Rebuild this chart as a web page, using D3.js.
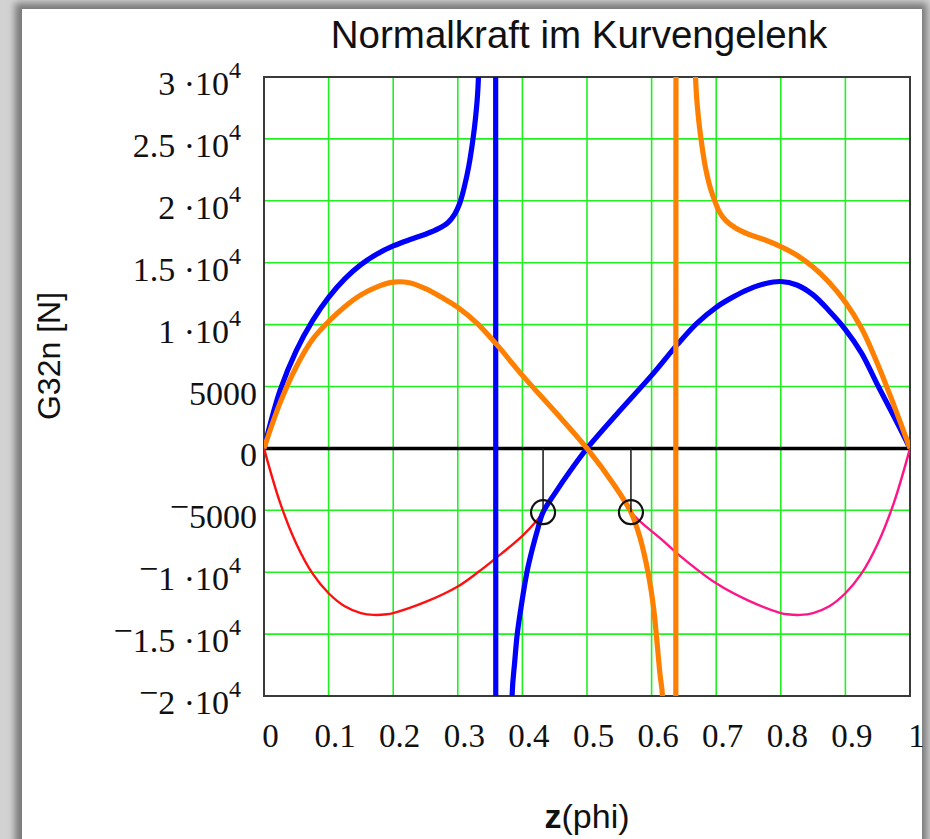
<!DOCTYPE html>
<html><head><meta charset="utf-8">
<script src="https://cdn.jsdelivr.net/npm/d3@7"></script>
<style>html,body{margin:0;padding:0;background:#fff;overflow:hidden} svg{display:block}</style>
</head><body>
<svg id="c" width="930" height="839"></svg>
<script>
// ---------- data ----------
const chartTitle = "Normalkraft im Kurvengelenk";
const yTitle = "G32n [N]";
const xTicks = [0, 0.1, 0.2, 0.3, 0.4, 0.5, 0.6, 0.7, 0.8, 0.9, 1];
const xTickLabels = ["0", "0.1", "0.2", "0.3", "0.4", "0.5", "0.6", "0.7", "0.8", "0.9", "1"];
const yTicks = [-20000, -15000, -10000, -5000, 0, 5000, 10000, 15000, 20000, 25000, 30000];
const yTickLabels = ["−2·10^4", "−1.5·10^4", "−1·10^4", "−5000", "0", "5000", "1·10^4", "1.5·10^4", "2·10^4", "2.5·10^4", "3·10^4"];

// blue trace (pole near z = 0.358)
const zBlue = [0, 0.025, 0.05, 0.075, 0.1, 0.125, 0.15, 0.175, 0.2, 0.225, 0.25, 0.27, 0.285, 0.295, 0.303, 0.31, 0.317, 0.323, 0.328, 0.332,
  0.358, 0.359, 0.384, 0.388, 0.392, 0.398, 0.407, 0.415, 0.423, 0.432, 0.45, 0.475, 0.5,
  0.55, 0.6, 0.64, 0.67, 0.7, 0.725, 0.75, 0.775, 0.8, 0.825, 0.85, 0.875, 0.9, 0.925, 0.95, 0.975, 1];
const gBlue = [0, 4700, 7900, 10300, 12200, 13700, 14850, 15700, 16350, 16850, 17300, 17750, 18250, 18900, 19800, 21100, 22800, 24800, 27000, 30000,
  200000, -200000, -20000, -17300, -15000, -12800, -10000, -8200, -6650, -5150, -3650, -1750, 0,
  3000, 5900, 8400, 10100, 11400, 12200, 12850, 13300, 13480, 13200, 12400, 11100, 9600, 7700, 5100, 2600, 0];

// orange trace (pole near z = 0.639)
const zOrange = [0, 0.025, 0.05, 0.075, 0.1, 0.125, 0.15, 0.175, 0.2, 0.225, 0.25, 0.275, 0.3, 0.33, 0.36, 0.4, 0.45, 0.5,
  0.541, 0.568, 0.582, 0.595, 0.603, 0.613, 0.617, 0.638, 0.639,
  0.668, 0.672, 0.677, 0.683, 0.69, 0.697, 0.705, 0.715, 0.73, 0.75, 0.775, 0.8, 0.825, 0.85, 0.875, 0.9, 0.925, 0.95, 0.975, 1];
const gOrange = [0, 3700, 6600, 8800, 10250, 11450, 12400, 13050, 13430, 13380, 12900, 12200, 11400, 10100, 8400, 5900, 3000, 0,
  -2880, -5150, -7200, -10160, -12860, -18250, -20140, -200000, 200000,
  30000, 27000, 24800, 22800, 21200, 20100, 19100, 18400, 17800, 17300, 16850, 16300, 15600, 14650, 13400, 11800, 9700, 6800, 3500, 0];

// red trace (left half)
const zRed = [0, 0.025, 0.05, 0.075, 0.1, 0.125, 0.15, 0.17, 0.19, 0.2, 0.25, 0.3, 0.33, 0.36, 0.4, 0.422, 0.432, 0.45, 0.475, 0.5];
const gRed = [0, -4400, -7700, -10100, -11700, -12750, -13300, -13450, -13400, -13300, -12400, -11150, -10050, -8820, -7060, -5850, -5150, -3650, -1750, 0];

// pink trace (right half)
const zPink = [0.5, 0.52, 0.541, 0.568, 0.618, 0.644, 0.7, 0.75, 0.8, 0.81, 0.83, 0.85, 0.875, 0.9, 0.925, 0.95, 0.975, 1];
const gPink = [0, -1400, -2880, -5150, -7470, -8680, -10900, -12300, -13300, -13400, -13450, -13300, -12750, -11700, -10100, -7700, -4400, 0];

// marked points
const zMark = [0.432, 0.568];
const gMark = [-5150, -5150];

// ---------- drawing ----------
const svg = d3.select("#c");
const W = 930, H = 839;
const plot = {l: 264, r: 910, t: 77, b: 696};

// frame / shadow
const defs = svg.append("defs");
const f = defs.append("filter").attr("id", "sh").attr("x", "-5%").attr("y", "-5%").attr("width", "110%").attr("height", "110%");
f.append("feGaussianBlur").attr("stdDeviation", 3.5);
svg.append("rect").attr("width", W).attr("height", H).attr("fill", "#d2d2d2");
svg.append("rect").attr("x", 15).attr("y", 3).attr("width", 912).attr("height", 860).attr("fill", "#7a7a7a").attr("filter", "url(#sh)");
svg.append("rect").attr("x", 22).attr("y", 9).attr("width", 900).attr("height", 850).attr("fill", "#fff");

defs.append("clipPath").attr("id", "clip").append("rect")
  .attr("x", plot.l).attr("y", plot.t).attr("width", plot.r - plot.l).attr("height", plot.b - plot.t);

const x = d3.scaleLinear().domain([0, 1]).range([plot.l, plot.r]);
const y = d3.scaleLinear().domain([-20000, 30000]).range([plot.b, plot.t]);

// grid
const grid = svg.append("g");
grid.selectAll("line.vx").data(xTicks.slice(1, -1)).join("line")
  .attr("x1", d => x(d)).attr("x2", d => x(d)).attr("y1", plot.t).attr("y2", plot.b)
  .attr("stroke", "#20f020").attr("stroke-width", 1.6);
grid.selectAll("line.hy").data(yTicks.filter(v => v !== 0 && v !== -20000 && v !== 30000)).join("line")
  .attr("x1", plot.l).attr("x2", plot.r).attr("y1", d => y(d)).attr("y2", d => y(d))
  .attr("stroke", "#20f020").attr("stroke-width", 1.6);

// border
svg.append("rect").attr("x", plot.l).attr("y", plot.t).attr("width", plot.r - plot.l).attr("height", plot.b - plot.t)
  .attr("fill", "none").attr("stroke", "#3a3a3a").attr("stroke-width", 2);

// zero line
svg.append("line").attr("x1", plot.l).attr("x2", plot.r).attr("y1", y(0)).attr("y2", y(0))
  .attr("stroke", "#000").attr("stroke-width", 3.5);

// axes (labels only, via d3 axis)
const xAxis = d3.axisBottom(x).tickValues(xTicks).tickSize(0).tickPadding(0)
  .tickFormat((d, i) => xTickLabels[i]);
const gx = svg.append("g").attr("transform", `translate(6,${plot.b + 51})`).call(xAxis);
gx.select(".domain").remove();
gx.selectAll("text").attr("dy", 0).attr("font-family", "'Liberation Serif','Times New Roman',serif")
  .attr("font-size", 33).attr("fill", "#111");

const gy = svg.append("g");
yTicks.forEach((v, i) => {
  const lab = yTickLabels[i];
  const parts = lab.split("^");
  const hasExp = parts.length > 1;
  const t = gy.append("text")
    .attr("x", hasExp ? 241 : 257).attr("y", y(v) + 18)
    .attr("text-anchor", "end")
    .attr("font-family", "'Liberation Serif','Times New Roman',serif")
    .attr("font-size", 34).attr("fill", "#111");
  let base = parts[0];
  let neg = base.startsWith("−");
  if (neg) base = base.slice(1);
  if (neg) { t.append("tspan").attr("dy", -10).text("−"); }
  const mant = hasExp ? base.replace("·", " ·") : base;
  t.append("tspan").attr("dy", neg ? 10 : 0).text(mant);
  if (hasExp) t.append("tspan").attr("dy", -17).attr("font-size", 24).text(parts[1]);
});

// curves
const line = d3.line().x(d => x(d[0])).y(d => y(d[1])).curve(d3.curveCatmullRom.alpha(0.5));
const curves = svg.append("g").attr("clip-path", "url(#clip)");
function trace(zs, gs, color, w) {
  curves.append("path").datum(zs.map((z, i) => [z, gs[i]]))
    .attr("d", line).attr("fill", "none").attr("stroke", color).attr("stroke-width", w)
    .attr("stroke-linejoin", "round");
}
trace(zRed, gRed, "#ff1010", 2.4);
trace(zPink, gPink, "#ff1585", 2.4);
trace(zBlue, gBlue, "#0000ff", 5.2);
trace(zOrange, gOrange, "#ff8000", 5.2);

// markers
const mk = svg.append("g");
zMark.forEach((z, i) => {
  mk.append("line").attr("x1", x(z)).attr("x2", x(z)).attr("y1", y(0)).attr("y2", y(gMark[i]))
    .attr("stroke", "#222").attr("stroke-width", 1.6);
  mk.append("circle").attr("cx", x(z)).attr("cy", y(gMark[i])).attr("r", 12)
    .attr("fill", "none").attr("stroke", "#111").attr("stroke-width", 2.2);
});

// titles
svg.append("text").attr("x", 579).attr("y", 48).attr("text-anchor", "middle")
  .attr("font-family", "'Liberation Sans',Arial,sans-serif").attr("font-size", 38.5).attr("fill", "#111")
  .text(chartTitle);
svg.append("text").attr("transform", "translate(60,356) rotate(-90)").attr("text-anchor", "middle")
  .attr("font-family", "'Liberation Sans',Arial,sans-serif").attr("font-size", 32).attr("fill", "#111")
  .text(yTitle);
const xt = svg.append("text").attr("x", 587).attr("y", 828).attr("text-anchor", "middle")
  .attr("font-family", "'Liberation Sans',Arial,sans-serif").attr("font-size", 34).attr("fill", "#111");
xt.append("tspan").attr("font-weight", "bold").text("z");
xt.append("tspan").text("(phi)");
</script>
</body></html>
